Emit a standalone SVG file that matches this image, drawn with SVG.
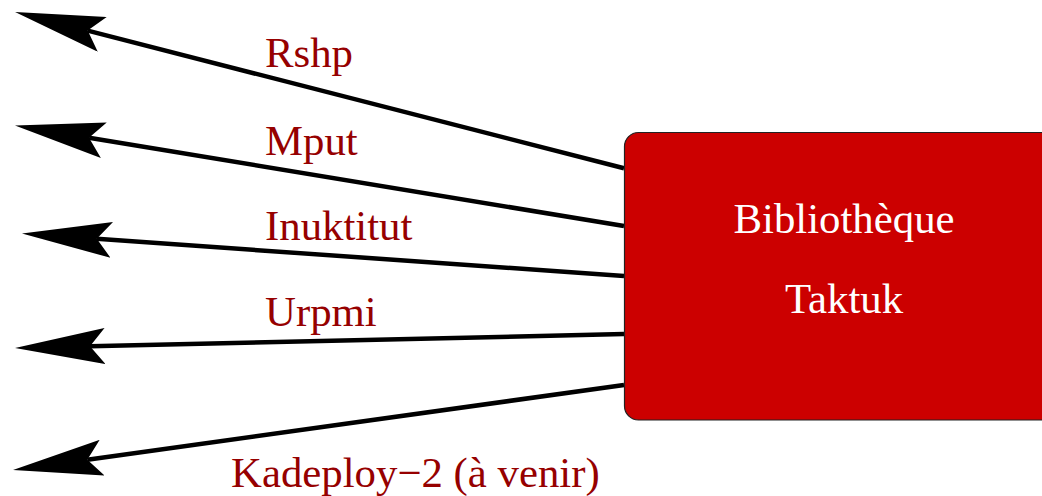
<svg xmlns="http://www.w3.org/2000/svg" width="1042" height="496" viewBox="0 0 1042 496">
  <style>
    .edge { stroke: #000; stroke-width: 4.5; fill: none; marker-end: url(#head); }
    .label { font-family: "Liberation Serif", "Times New Roman", serif; font-size: 42.8px; fill: #960000; }
    .boxtext { font-family: "Liberation Serif", "Times New Roman", serif; font-size: 42.8px; fill: #fff; text-anchor: middle; }
  </style>
  <defs>
    <!-- barbed arrowhead, anchored at its notch so the shaft stops inside it -->
    <marker id="head" markerUnits="userSpaceOnUse" viewBox="0 0 90 36" refX="15" refY="18" markerWidth="90" markerHeight="36" orient="auto">
      <path d="M90,18 L0,0 L15,18 L0,36 Z" fill="#000"/>
    </marker>
  </defs>

  <g id="connectors">
    <line class="edge" x1="624" y1="168.3" x2="87.7" y2="30.6"/>
    <line class="edge" x1="624" y1="226" x2="89" y2="137.7"/>
    <line class="edge" x1="624" y1="276" x2="96.8" y2="238.8"/>
    <line class="edge" x1="624" y1="334" x2="90" y2="346.3"/>
    <line class="edge" x1="624" y1="385" x2="87.3" y2="459.7"/>
    <text class="label" x="265" y="67">Rshp</text>
    <text class="label" x="265" y="155">Mput</text>
    <text class="label" x="265" y="240">Inuktitut</text>
    <text class="label" x="265" y="326">Urpmi</text>
    <text class="label" x="231" y="487">Kadeploy−2 (à venir)</text>
  </g>

  <g id="taktuk">
    <rect x="624.5" y="132.5" width="440" height="287.5" rx="14" ry="14" fill="#cc0000" stroke="#222" stroke-width="1.2"/>
    <text class="boxtext" x="844" y="233">Bibliothèque</text>
    <text class="boxtext" x="844" y="313">Taktuk</text>
  </g>
</svg>
